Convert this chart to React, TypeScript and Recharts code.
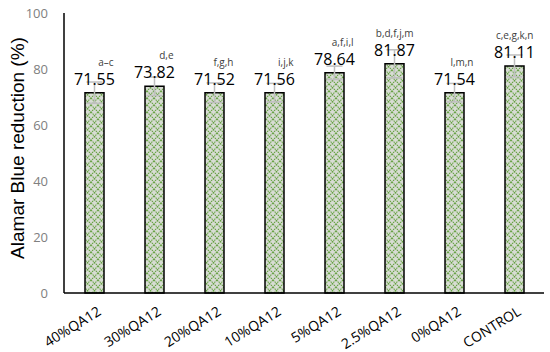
import { BarChart, Bar, XAxis, YAxis, ErrorBar, LabelList } from 'recharts'

const groups = ['40%QA12', '30%QA12', '20%QA12', '10%QA12', '5%QA12', '2.5%QA12', '0%QA12', 'CONTROL']
const reduction = [71.55, 73.82, 71.52, 71.56, 78.64, 81.87, 71.54, 81.11]
const errors = [3.8, 3.3, 3.5, 3.3, 2.4, 5.0, 3.3, 3.9]
const letters = ['a–c', 'd,e', 'f,g,h', 'i,j,k', 'a,f,i,l', 'b,d,f,j,m', 'l,m,n', 'c,e,g,k,n']
const yTicks = [0, 20, 40, 60, 80, 100]

const data = groups.map((name, i) => ({
  name,
  value: reduction[i],
  err: errors[i],
  letters: letters[i],
}))

const FONT = '"Open Sans", sans-serif'

function XTick({ x, y, payload }: any) {
  return (
    <g transform={`translate(${x + 8},${y + 13})`}>
      <text textAnchor="end" transform="rotate(-32)" fontFamily={FONT} fontSize={14} fill="#000">
        {payload.value}
      </text>
    </g>
  )
}

function ValueLabel(props: any) {
  const { x, y, width, value, index } = props
  const cx = x + width / 2
  return (
    <g>
      <text x={cx} y={y - 8} textAnchor="middle" fontFamily={FONT} fontSize={16} fill="#000">
        {value.toFixed(2)}
      </text>
      <text x={cx + 19} y={y - 27} textAnchor="end" fontFamily={FONT} fontSize={10} fill="#404040">
        {letters[index]}
      </text>
    </g>
  )
}

export default function App() {
  return (
    <div style={{ position: 'absolute', left: 0, top: 0 }}>
      <svg width={0} height={0} style={{ position: 'absolute' }}>
        <defs>
          <pattern id="lattice" width={7} height={7} patternUnits="userSpaceOnUse">
            <rect width={7} height={7} fill="#d8dcd4" />
            <path d="M0,0 L7,7 M7,0 L0,7" stroke="#64a040" strokeWidth={1.1} strokeDasharray="1.5 0.8" />
          </pattern>
        </defs>
      </svg>
      <BarChart width={550} height={352} data={data} margin={{ top: 13, right: 6, left: 0, bottom: 0 }}>
        <XAxis
          dataKey="name"
          interval={0}
          height={59}
          tick={<XTick />}
          tickLine={false}
          axisLine={{ stroke: '#000', strokeWidth: 1.5 }}
        />
        <XAxis xAxisId="top" dataKey="name" orientation="top" height={0} tick={false} tickLine={false} axisLine={{ stroke: '#000', strokeWidth: 1.5 }} />
        <YAxis
          domain={[0, 100]}
          ticks={yTicks}
          width={64}
          tickLine={false}
          tickMargin={10}
          axisLine={{ stroke: '#000', strokeWidth: 1.5 }}
          tick={{ fill: '#808080', fontSize: 13, fontFamily: FONT }}
          label={{
            content: ({ viewBox }: any) => (
              <text
                x={0}
                y={0}
                transform={`translate(24,${viewBox.y + viewBox.height / 2 - 5}) rotate(-90)`}
                textAnchor="middle"
                fontFamily='"Liberation Sans", Arial, sans-serif'
                fontSize={19}
                fill="#000"
              >
                Alamar Blue reduction (%)
              </text>
            ),
          }}
        />
        <YAxis yAxisId="right" orientation="right" width={0} domain={[0, 100]} tick={false} tickLine={false} axisLine={{ stroke: '#000', strokeWidth: 1.5 }} />
        <Bar dataKey="value" barSize={19} fill="url(#lattice)" stroke="#000" strokeWidth={1.5} isAnimationActive={false}>
          <LabelList dataKey="value" content={<ValueLabel />} />
          <ErrorBar dataKey="err" width={8} stroke="#bfbfbf" strokeWidth={1.5} />
        </Bar>
      </BarChart>
    </div>
  )
}
